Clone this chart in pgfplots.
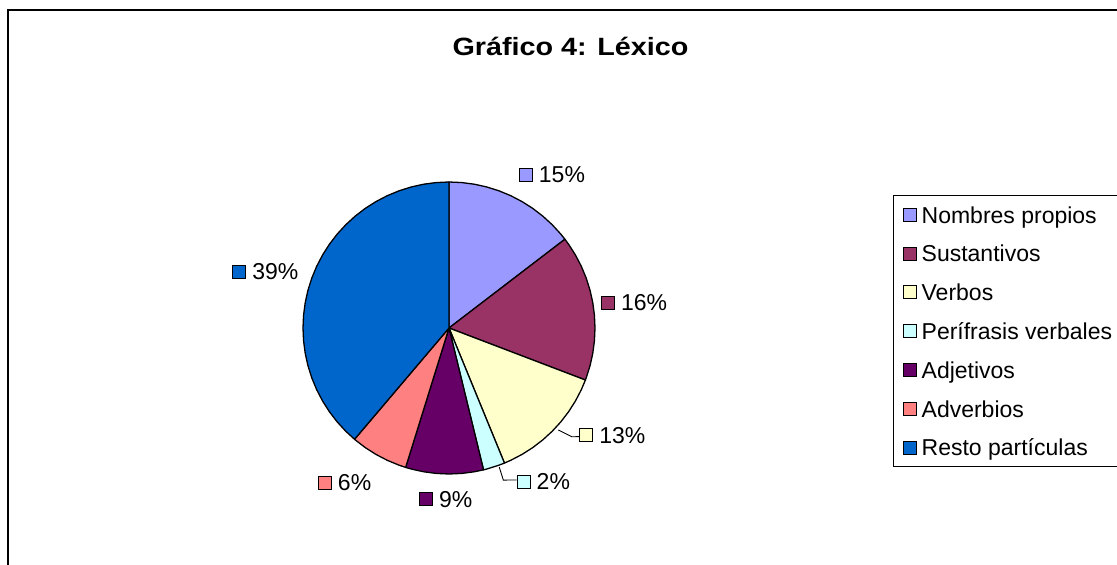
\documentclass[border=0pt]{standalone}
\usepackage{pgfplots}
\pgfplotsset{compat=1.18}
\usepgfplotslibrary{polar}
\usepackage{graphicx}
\usepackage{fontspec}
\setmainfont{Liberation Sans}
\definecolor{cNP}{HTML}{9999FF}
\definecolor{cSU}{HTML}{993366}
\definecolor{cVE}{HTML}{FFFFCC}
\definecolor{cPE}{HTML}{CCFFFF}
\definecolor{cAJ}{HTML}{660066}
\definecolor{cAV}{HTML}{FF8080}
\definecolor{cRE}{HTML}{0066CC}
\newcommand{\lab}{\fontsize{23}{27}\selectfont}
% Shares (%): Nombres propios 14.6, Sustantivos 16.2, Verbos 13.0,
% Perifrasis verbales 2.4, Adjetivos 8.6, Adverbios 6.4, Resto particulas 38.8
\pgfplotsset{
  lbl/.style={only marks, mark=square*, mark size=6.5pt,
    mark options={fill=#1, draw=black, line width=1pt, solid},
    point meta=explicit symbolic, nodes near coords,
    every node near coord/.append style={anchor=west, xshift=12.5pt, inner sep=0pt, font=\lab, text=black}},
  slice/.style={fill=#1, draw=black, line width=1.3pt, line join=round, no marks},
}
\begin{document}
\begin{tikzpicture}[x=1pt,y=1pt]
\useasboundingbox (0,0) rectangle (1117,565);
\clip (0,0) rectangle (1117,565);
\fill[white] (0,0) rectangle (1117,565);
\draw[line width=2pt] (8,-5) -- (8,555) -- (1125,555);
\node[anchor=base, inner sep=0pt] at (570.5,509.3) {\scalebox{1.15}[1]{\fontsize{25}{29}\selectfont\bfseries Gráfico 4: Léxico}};

\begin{axis}[at={(0,0)}, anchor=south west, scale only axis, width=1117pt, height=565pt,
  xmin=0, xmax=1117, ymin=0, ymax=565, hide axis,
  legend image code/.code={\draw[#1, draw=black, line width=1pt] (0pt,-6.5pt) rectangle (13pt,6.5pt);},
  legend cell align=left,
  legend style={at={(axis description cs:0.79946,0.6549)}, anchor=north west, draw=black, line width=1.3pt,
    fill=white, font=\lab, inner xsep=9.5pt, inner ysep=4.9pt, row sep=10.3pt, column sep=4.5pt,
    nodes={inner sep=0pt, text depth=6pt, text height=22.5pt}}]
\addlegendimage{fill=cNP}\addlegendentry{Nombres propios}
\addlegendimage{fill=cSU}\addlegendentry{Sustantivos}
\addlegendimage{fill=cVE}\addlegendentry{Verbos}
\addlegendimage{fill=cPE}\addlegendentry{Perífrasis verbales}
\addlegendimage{fill=cAJ}\addlegendentry{Adjetivos}
\addlegendimage{fill=cAV}\addlegendentry{Adverbios}
\addlegendimage{fill=cRE}\addlegendentry{Resto partículas}
\end{axis}

\begin{polaraxis}[at={(449pt,237pt)}, anchor=origin, scale only axis, width=292pt, height=292pt,
  xmin=0, xmax=360, ymin=0, ymax=1, hide axis, clip=false]
% Nombres propios 14.6%: 90 -> 37.44
\addplot[slice=cNP] coordinates {(0,0) (90,1) (85,1) (80,1) (75,1) (70,1) (65,1) (60,1) (55,1) (50,1) (45,1) (40,1) (37.44,1) (0,0)};
% Sustantivos 16.2%: 37.44 -> -20.88
\addplot[slice=cSU] coordinates {(0,0) (37.44,1) (35,1) (30,1) (25,1) (20,1) (15,1) (10,1) (5,1) (0,1) (-5,1) (-10,1) (-15,1) (-20,1) (-20.88,1) (0,0)};
% Verbos 13.0%: -20.88 -> -67.68
\addplot[slice=cVE] coordinates {(0,0) (-20.88,1) (-25,1) (-30,1) (-35,1) (-40,1) (-45,1) (-50,1) (-55,1) (-60,1) (-65,1) (-67.68,1) (0,0)};
% Perifrasis verbales 2.4%: -67.68 -> -76.32
\addplot[slice=cPE] coordinates {(0,0) (-67.68,1) (-70,1) (-75,1) (-76.32,1) (0,0)};
% Adjetivos 8.6%: -76.32 -> -107.28
\addplot[slice=cAJ] coordinates {(0,0) (-76.32,1) (-80,1) (-85,1) (-90,1) (-95,1) (-100,1) (-105,1) (-107.28,1) (0,0)};
% Adverbios 6.4%: -107.28 -> -130.32
\addplot[slice=cAV] coordinates {(0,0) (-107.28,1) (-110,1) (-115,1) (-120,1) (-125,1) (-130,1) (-130.32,1) (0,0)};
% Resto particulas 38.8%: 229.68 -> 90
\addplot[slice=cRE] coordinates {(0,0) (229.68,1) (225,1) (220,1) (215,1) (210,1) (205,1) (200,1) (195,1) (190,1) (185,1) (180,1) (175,1) (170,1) (165,1) (160,1) (155,1) (150,1) (145,1) (140,1) (135,1) (130,1) (125,1) (120,1) (115,1) (110,1) (105,1) (100,1) (95,1) (90,1) (0,0)};
% leader lines
\addplot[black, line width=0.9pt, no marks] coordinates {(-43.02,1.024) (-41.54,1.123) (-39.84,1.162)};
\addplot[black, line width=0.9pt, no marks] coordinates {(-70.14,1.014) (-70.34,1.106) (-65.99,1.140)};
% data labels
\addplot[lbl=cNP] coordinates {(63.3,1.173) [15\%]};
\addplot[lbl=cSU] coordinates {(9.11,1.103) [16\%]};
\addplot[lbl=cVE] coordinates {(-38.0,1.194) [13\%]};
\addplot[lbl=cPE] coordinates {(-64.1,1.172) [2\%]};
\addplot[lbl=cAJ] coordinates {(-97.64,1.185) [9\%]};
\addplot[lbl=cAV] coordinates {(-128.75,1.357) [6\%]};
\addplot[lbl=cRE] coordinates {(164.97,1.487) [39\%]};
\end{polaraxis}
\end{tikzpicture}
\end{document}
